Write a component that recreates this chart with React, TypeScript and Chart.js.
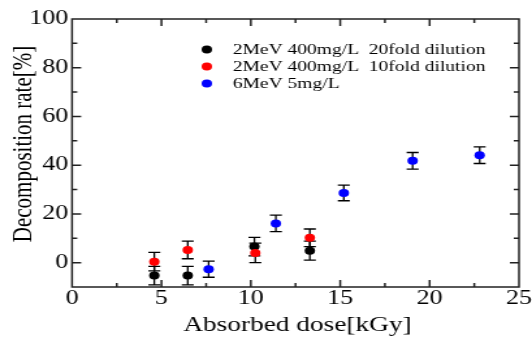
import React, { useEffect, useRef } from "react";
import { Chart, registerables } from "chart.js";
Chart.register(...registerables);

// ---- data ----
const blackX = [4.6, 6.47, 10.2, 13.3];
const blackY = [-5.3, -5.3, 6.6, 4.9];
const blackErr = [3.8, 3.8, 3.8, 3.9];
const redX = [4.6, 6.47, 10.25, 13.3];
const redY = [0.4, 5.2, 4.0, 10.2];
const redErr = [3.8, 3.6, 4.0, 3.6];
const blueX = [7.64, 11.4, 15.2, 19.05, 22.8];
const blueY = [-2.7, 16.1, 28.6, 41.8, 44.1];
const blueErr = [3.3, 3.4, 3.2, 3.4, 3.4];
const seriesLabels = [
  "2MeV 400mg/L  20fold dilution",
  "2MeV 400mg/L  10fold dilution",
  "6MeV 5mg/L",
];
const seriesColors = ["#000000", "#ff0000", "#0000ff"];
const xTicks = [0, 5, 10, 15, 20, 25];
const xMinorTicks = [2.5, 7.5, 12.5, 17.5, 22.5];
const yTicks = [0, 20, 40, 60, 80, 100];
const yMinorTicks = [10, 30, 50, 70, 90];
const xTitle = "Absorbed dose[kGy]";
const yTitle = "Decomposition rate[%]";

// internal canvas size (stretched horizontally by CSS to 532x339)
const W = 409;
const H = 339;
const FONT = "'Liberation Serif', 'Times New Roman', serif";

function toPts(xs: number[], ys: number[]) {
  return xs.map((x, i) => ({ x, y: ys[i] }));
}

const errs = [blackErr, redErr, blueErr];

const decorPlugin = {
  id: "decor",
  beforeDatasetsDraw(chart: any) {
    const { ctx, chartArea: a, scales } = chart;
    const xs = scales.x;
    const ys = scales.y;
    ctx.save();
    ctx.strokeStyle = "#222";
    ctx.lineWidth = 1.5;
    // frame
    ctx.strokeRect(a.left, a.top, a.right - a.left, a.bottom - a.top);
    // ticks
    const major = 7;
    const minor = 4;
    ctx.beginPath();
    const xt = (v: number, len: number) => {
      const p = xs.getPixelForValue(v);
      ctx.moveTo(p, a.bottom);
      ctx.lineTo(p, a.bottom - len);
      ctx.moveTo(p, a.top);
      ctx.lineTo(p, a.top + len);
    };
    const yt = (v: number, len: number) => {
      const p = ys.getPixelForValue(v);
      ctx.moveTo(a.left, p);
      ctx.lineTo(a.left + len, p);
      ctx.moveTo(a.right, p);
      ctx.lineTo(a.right - len, p);
    };
    xTicks.slice(1, -1).forEach((v) => xt(v, major));
    xMinorTicks.forEach((v) => xt(v, minor));
    yTicks.slice(1, -1).forEach((v) => yt(v, major));
    yTicks.slice(0, 1).forEach((v) => yt(v, major));
    yMinorTicks.forEach((v) => yt(v, minor));
    ctx.stroke();

    // error bars
    ctx.strokeStyle = "#000";
    ctx.lineWidth = 1.3;
    const cap = 4.6;
    chart.data.datasets.forEach((ds: any, di: number) => {
      const e = errs[di];
      ds.data.forEach((pt: any, i: number) => {
        const px = xs.getPixelForValue(pt.x);
        const pTop = ys.getPixelForValue(pt.y + e[i]);
        const pBot = ys.getPixelForValue(pt.y - e[i]);
        ctx.beginPath();
        ctx.moveTo(px, pTop);
        ctx.lineTo(px, pBot);
        ctx.moveTo(px - cap, pTop);
        ctx.lineTo(px + cap, pTop);
        ctx.moveTo(px - cap, pBot);
        ctx.lineTo(px + cap, pBot);
        ctx.stroke();
      });
    });
    ctx.restore();
  },
  afterDraw(chart: any) {
    const { ctx, chartArea: a } = chart;
    ctx.save();
    // legend
    const lx = 159;
    const ly = [49.5, 66.5, 83.5];
    ctx.font = `15px ${FONT}`;
    ctx.textBaseline = "middle";
    ctx.textAlign = "left";
    seriesLabels.forEach((lab, i) => {
      ctx.fillStyle = seriesColors[i];
      ctx.beginPath();
      ctx.arc(lx, ly[i], 4, 0, Math.PI * 2);
      ctx.fill();
      ctx.fillStyle = "#000";
      ctx.fillText(lab, 179, ly[i] + 0.5);
    });
    // axis titles
    ctx.fillStyle = "#000";
    ctx.font = `21px ${FONT}`;
    ctx.textAlign = "center";
    ctx.textBaseline = "alphabetic";
    ctx.fillText(xTitle, (a.left + a.right) / 2 + 1.5, 331);
    ctx.translate(23.6, 144);
    ctx.rotate(-Math.PI / 2);
    ctx.fillText(yTitle, 0, 0);
    ctx.restore();
  },
};

export default function App() {
  const ref = useRef<HTMLCanvasElement | null>(null);
  useEffect(() => {
    if (!ref.current) return;
    const chart = new Chart(ref.current, {
      type: "scatter",
      data: {
        datasets: [
          {
            label: seriesLabels[0],
            data: toPts(blackX, blackY),
            backgroundColor: seriesColors[0],
            borderColor: seriesColors[0],
            pointRadius: 4,
            borderWidth: 0,
            order: 2,
          },
          {
            label: seriesLabels[1],
            data: toPts(redX, redY),
            backgroundColor: seriesColors[1],
            borderColor: seriesColors[1],
            pointRadius: 4,
            borderWidth: 0,
            order: 1,
          },
          {
            label: seriesLabels[2],
            data: toPts(blueX, blueY),
            backgroundColor: seriesColors[2],
            borderColor: seriesColors[2],
            pointRadius: 4,
            borderWidth: 0,
            order: 0,
          },
        ],
      },
      options: {
        animation: false,
        responsive: false,
        devicePixelRatio: 1,
        layout: { padding: { top: 19, right: 9.8, left: 0, bottom: 0 } },
        plugins: { legend: { display: false }, tooltip: { enabled: false } },
        scales: {
          x: {
            type: "linear",
            min: 0,
            max: 25,
            grid: { display: false, drawTicks: false },
            border: { display: false },
            afterBuildTicks: (s: any) => {
              s.ticks = xTicks.map((v) => ({ value: v }));
            },
            afterFit: (s: any) => {
              s.height = H - 287;
            },
            ticks: {
              padding: 0,
              maxRotation: 0,
              color: "#000",
              font: { family: FONT, size: 20 },
            },
          },
          y: {
            type: "linear",
            min: -10,
            max: 100,
            grid: { display: false, drawTicks: false },
            border: { display: false },
            afterBuildTicks: (s: any) => {
              s.ticks = yTicks.map((v) => ({ value: v }));
            },
            afterFit: (s: any) => {
              s.width = 55.4;
            },
            ticks: {
              padding: 3,
              color: "#000",
              font: { family: FONT, size: 20 },
            },
          },
        },
      },
      plugins: [decorPlugin],
    } as any);
    return () => chart.destroy();
  }, []);
  return (
    <div style={{ position: "absolute", left: 0, top: 0, width: 532, height: 339, background: "#fff" }}>
      <canvas
        ref={ref}
        width={W}
        height={H}
        style={{ width: "532px", height: "339px", display: "block" }}
      />
    </div>
  );
}
